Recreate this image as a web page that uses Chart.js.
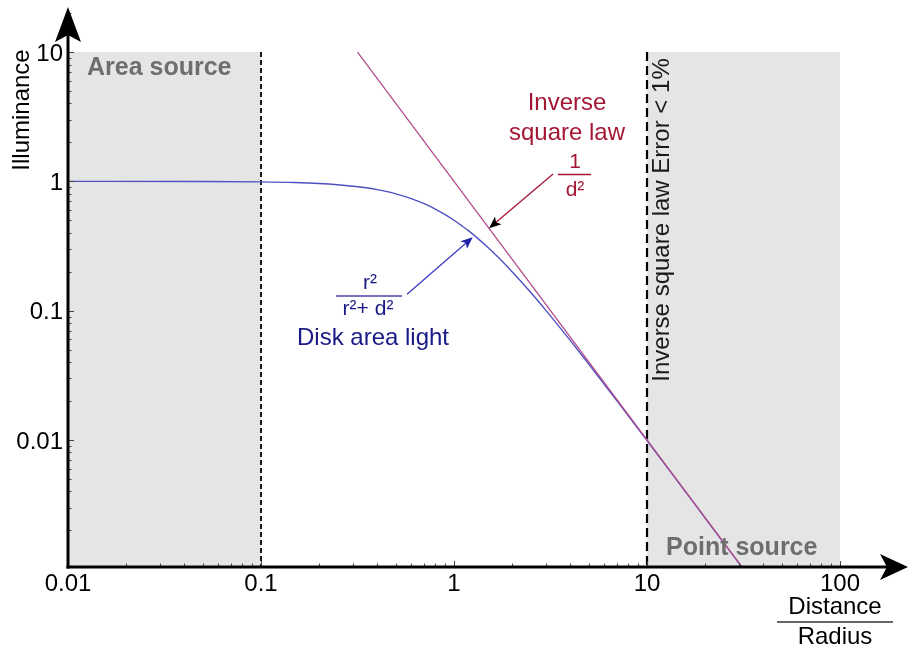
<!DOCTYPE html>
<html>
<head>
<meta charset="utf-8">
<script src="https://cdn.jsdelivr.net/npm/chart.js@4/dist/chart.umd.min.js"></script>
<style>
html,body{margin:0;padding:0;background:#fff;}
#c{display:block;}
</style>
</head>
<body>
<canvas id="c" width="909" height="649"></canvas>
<script>
// ---- data ----
const xTicks = [0.01, 0.1, 1, 10, 100];
const xTickLabels = ["0.01", "0.1", "1", "10", "100"];
const yTicks = [0.01, 0.1, 1, 10];
const yTickLabels = ["0.01", "0.1", "1", "10"];

// Disk area light  r²/(r²+d²)
const diskD = [0.01, 0.05, 0.1, 0.15, 0.2, 0.25, 0.3, 0.35, 0.4, 0.45, 0.5, 0.6, 0.7, 0.8, 0.9, 1.0, 1.1, 1.2, 1.35, 1.5, 1.7, 2.0, 2.5, 3.0, 4.0, 5.0, 7.0, 10.0, 15.0, 20.0, 31.0];
const diskE = [1.0, 0.9975, 0.990, 0.978, 0.9615, 0.941, 0.917, 0.891, 0.862, 0.832, 0.800, 0.735, 0.671, 0.610, 0.552, 0.500, 0.452, 0.410, 0.354, 0.308, 0.257, 0.200, 0.138, 0.100, 0.0588, 0.0385, 0.0200, 0.0099, 0.00442, 0.00249, 0.00104];

// Inverse square law 1/d²
const invD = [0.3162, 31.0];
const invE = [10, 0.00104];

// shaded regions [from, to] along distance, up to illuminance 10
const areaRegion = [0.01, 0.1];
const pointRegion = [10, 100];
const regionTop = 10;
// dashed boundaries
const areaLimit = 0.1;
const pointLimit = 10;

const FONT = '"Liberation Sans", Arial, sans-serif';
const RED = 'rgb(165,22,52)';
const NAVY = 'rgb(25,25,135)';

function arrow(ctx, x1, y1, x2, y2, lineColor, headColor, len, w) {
  ctx.save();
  ctx.strokeStyle = lineColor; ctx.lineWidth = 1.3;
  const a = Math.atan2(y2 - y1, x2 - x1);
  ctx.beginPath(); ctx.moveTo(x1, y1); ctx.lineTo(x2 - Math.cos(a) * len * 0.7, y2 - Math.sin(a) * len * 0.7); ctx.stroke();
  ctx.fillStyle = headColor;
  ctx.translate(x2, y2); ctx.rotate(a);
  ctx.beginPath(); ctx.moveTo(0, 0); ctx.lineTo(-len, -w); ctx.lineTo(-len * 0.75, 0); ctx.lineTo(-len, w); ctx.closePath(); ctx.fill();
  ctx.restore();
}

const bgPlugin = {
  id: 'bg',
  beforeDraw(chart) {
    const {ctx, scales: {x, y}, chartArea: ca} = chart;
    ctx.save();
    ctx.fillStyle = '#e5e5e5';
    [areaRegion, pointRegion].forEach(r => {
      const x0 = x.getPixelForValue(r[0]), x1 = x.getPixelForValue(r[1]);
      const yt = y.getPixelForValue(regionTop);
      ctx.fillRect(x0, yt, x1 - x0, ca.bottom - yt);
    });
    // dashed lines
    ctx.strokeStyle = '#000';
    ctx.lineWidth = 1.8; ctx.setLineDash([5, 3]);
    let px = x.getPixelForValue(areaLimit);
    ctx.beginPath(); ctx.moveTo(px, y.getPixelForValue(regionTop)); ctx.lineTo(px, ca.bottom); ctx.stroke();
    ctx.lineWidth = 2.2; ctx.setLineDash([9, 5]);
    px = x.getPixelForValue(pointLimit);
    ctx.beginPath(); ctx.moveTo(px, y.getPixelForValue(regionTop)); ctx.lineTo(px, ca.bottom); ctx.stroke();
    ctx.setLineDash([]);
    // region labels
    ctx.fillStyle = '#6e6e6e';
    ctx.font = 'bold 25px ' + FONT;
    ctx.textBaseline = 'middle'; ctx.textAlign = 'left';
    ctx.fillText('Area source', 87, 68);
    ctx.restore();
  },
  afterDatasetsDraw(chart) {
    const {ctx, scales: {x, y}, chartArea: ca} = chart;
    ctx.save();
    ctx.fillStyle = '#6e6e6e';
    ctx.font = 'bold 25px ' + FONT;
    ctx.textBaseline = 'middle'; ctx.textAlign = 'left';
    ctx.fillText('Point source', 666, 548);

    // rotated error label
    ctx.fillStyle = '#1a1a1a';
    ctx.font = '24px ' + FONT;
    ctx.save();
    ctx.translate(662, 220); ctx.rotate(-Math.PI / 2);
    ctx.textAlign = 'center'; ctx.textBaseline = 'middle';
    ctx.fillText('Inverse square law Error < 1%', 0, 0);
    ctx.restore();

    // inverse square law annotation
    ctx.fillStyle = RED; ctx.textAlign = 'center'; ctx.textBaseline = 'middle';
    ctx.font = '24px ' + FONT;
    ctx.fillText('Inverse', 567, 103);
    ctx.fillText('square law', 567, 133);
    ctx.font = '21px ' + FONT;
    ctx.fillText('1', 575, 162);
    ctx.fillText('d²', 575, 190);
    ctx.strokeStyle = RED; ctx.lineWidth = 1.3;
    ctx.beginPath(); ctx.moveTo(558, 174.5); ctx.lineTo(591, 174.5); ctx.stroke();
    arrow(ctx, x.getPixelForValue(3.26), y.getPixelForValue(1.14), x.getPixelForValue(1.52), y.getPixelForValue(0.434), RED, '#000', 12, 5);

    // disk area light annotation
    ctx.fillStyle = NAVY; ctx.font = '21px ' + FONT;
    ctx.fillText('r²', 370, 283);
    ctx.fillText('r²+ d²', 368, 309);
    ctx.strokeStyle = 'rgb(70,70,170)';
    ctx.beginPath(); ctx.moveTo(336, 296); ctx.lineTo(402, 296); ctx.stroke();
    ctx.font = '24px ' + FONT;
    ctx.fillText('Disk area light', 373, 338);
    arrow(ctx, x.getPixelForValue(0.571), y.getPixelForValue(0.134), x.getPixelForValue(1.25), y.getPixelForValue(0.37), 'rgb(60,60,190)', 'rgb(30,30,170)', 12, 5);

    // axis titles
    ctx.fillStyle = '#000'; ctx.font = '24px ' + FONT;
    ctx.fillText('Distance', 835, 607);
    ctx.fillText('Radius', 835, 637);
    ctx.strokeStyle = '#333'; ctx.lineWidth = 1.3;
    ctx.beginPath(); ctx.moveTo(777, 622); ctx.lineTo(893, 622); ctx.stroke();
    ctx.save();
    ctx.translate(22, 110); ctx.rotate(-Math.PI / 2);
    ctx.fillText('Illuminance', 0, 0);
    ctx.restore();

    // minor & major ticks (inside)
    ctx.strokeStyle = '#444'; ctx.lineWidth = 1;
    for (let e = -2; e <= 2; e++) {
      for (let k = 1; k <= 9; k++) {
        const v = k * Math.pow(10, e);
        if (v < x.min || v > x.max) continue;
        const p = Math.round(x.getPixelForValue(v)) + 0.5;
        const L = k === 1 ? 6 : 3.5;
        ctx.beginPath(); ctx.moveTo(p, ca.bottom); ctx.lineTo(p, ca.bottom - L); ctx.stroke();
      }
    }
    for (let e = -3; e <= 1; e++) {
      for (let k = 1; k <= 9; k++) {
        const v = k * Math.pow(10, e);
        if (v < y.min || v > y.max) continue;
        const p = Math.round(y.getPixelForValue(v)) + 0.5;
        const L = k === 1 ? 6 : 3.5;
        ctx.beginPath(); ctx.moveTo(ca.left, p); ctx.lineTo(ca.left + L, p); ctx.stroke();
      }
    }

    // axes with arrows
    ctx.strokeStyle = '#000'; ctx.fillStyle = '#000'; ctx.lineWidth = 3;
    const ox = ca.left, oy = ca.bottom;
    ctx.beginPath(); ctx.moveTo(ox, oy + 1.5); ctx.lineTo(ox, ca.top + 25); ctx.stroke();
    ctx.beginPath(); ctx.moveTo(ox - 1.5, oy); ctx.lineTo(ca.right - 20, oy); ctx.stroke();
    ctx.beginPath();
    ctx.moveTo(ox, ca.top); ctx.lineTo(ox - 13, ca.top + 35); ctx.lineTo(ox, ca.top + 28); ctx.lineTo(ox + 13, ca.top + 35); ctx.closePath(); ctx.fill();
    ctx.beginPath();
    ctx.moveTo(ca.right, oy); ctx.lineTo(ca.right - 28, oy - 13); ctx.lineTo(ca.right - 21, oy); ctx.lineTo(ca.right - 28, oy + 13); ctx.closePath(); ctx.fill();
    ctx.restore();
  }
};

function zeroPad(s) { s.paddingTop = 0; s.paddingBottom = 0; s.paddingLeft = 0; s.paddingRight = 0; }

new Chart(document.getElementById('c'), {
  type: 'line',
  data: {
    datasets: [
      {
        label: 'Inverse square law',
        data: invD.map((d, i) => ({x: d, y: invE[i]})),
        borderColor: 'rgb(178,78,140)',
        borderWidth: 1.3,
        pointRadius: 0,
        tension: 0
      },
      {
        label: 'Disk area light',
        data: diskD.map((d, i) => ({x: d, y: diskE[i]})),
        borderColor: 'rgb(80,80,195)',
        borderWidth: 1.4,
        pointRadius: 0,
        cubicInterpolationMode: 'monotone'
      }
    ]
  },
  options: {
    responsive: false,
    animation: false,
    devicePixelRatio: 1,
    layout: {padding: {left: 0, right: 1, top: 7, bottom: 0}},
    plugins: {legend: {display: false}, tooltip: {enabled: false}},
    scales: {
      x: {
        type: 'logarithmic',
        min: 0.01, max: 225,
        border: {display: false},
        grid: {display: false, drawTicks: false},
        afterBuildTicks: s => { s.ticks = xTicks.map(v => ({value: v})); },
        afterFit: s => { s.height = 82; zeroPad(s); },
        ticks: {
          autoSkip: false, maxRotation: 0, padding: 3,
          color: '#000', font: {family: FONT, size: 24},
          callback: (v) => xTickLabels[xTicks.indexOf(v)]
        }
      },
      y: {
        type: 'logarithmic',
        min: 0.00104, max: 22.3,
        border: {display: false},
        grid: {display: false, drawTicks: false},
        afterBuildTicks: s => { s.ticks = yTicks.map(v => ({value: v})); },
        afterFit: s => { s.width = 68; zeroPad(s); },
        ticks: {
          autoSkip: false, padding: 5, labelOffset: 2,
          color: '#000', font: {family: FONT, size: 24},
          callback: (v) => yTickLabels[yTicks.indexOf(v)]
        }
      }
    }
  },
  plugins: [bgPlugin]
});
</script>
</body>
</html>
